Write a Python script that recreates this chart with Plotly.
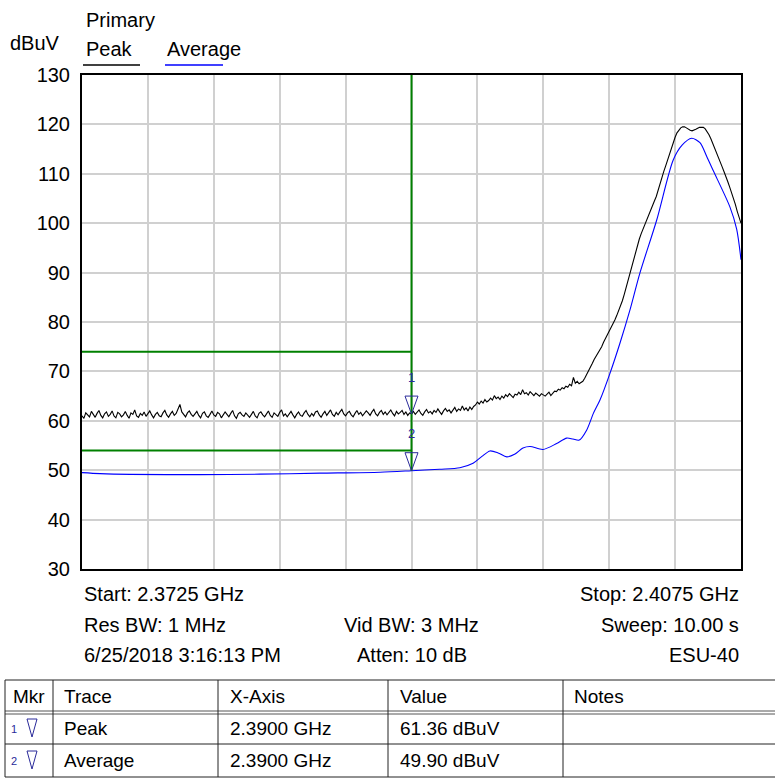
import numpy as np
import plotly.graph_objects as go

# ---------------- data ----------------
start_ghz = 2.3725
stop_ghz = 2.4075
y_min, y_max = 30, 130

# Peak trace (sweep points, 0.1 MHz spacing)
peak_dbuv = [
    61.0, 60.5, 61.6, 61.2, 60.8, 61.9, 61.3, 60.7, 61.5, 62.1,
    61.1, 60.6, 61.4, 61.8, 60.9, 61.3, 62.0, 61.0, 60.6, 61.7,
    61.4, 60.8, 61.2, 61.9, 61.1, 60.5, 61.6, 61.3, 62.2, 61.0,
    60.7, 61.5, 61.1, 61.8, 60.9, 61.4, 62.0, 61.2, 60.6, 61.3,
    61.7, 61.0, 60.8, 61.6, 62.1, 61.2, 60.7, 61.4, 61.9, 61.1,
    61.5, 62.4, 63.3, 61.8, 61.2, 60.8, 61.6, 62.0, 61.3, 60.9,
    61.4, 61.9, 61.1, 60.6, 61.5, 61.8, 61.0, 60.7, 61.3, 62.0,
    61.2, 60.9, 61.7, 61.4, 60.6, 61.1, 61.8, 61.3, 60.8, 61.5,
    62.1, 61.0, 60.5, 61.4, 61.7, 61.2, 60.9, 61.6, 61.1, 60.7,
    61.3, 61.9, 61.0, 60.6, 61.5, 61.8, 61.2, 60.8, 61.4, 62.0,
    61.1, 60.7, 61.6, 61.3, 60.9, 61.7, 62.2, 61.0, 61.4, 60.8,
    61.5, 61.9, 61.2, 60.6, 61.3, 61.8, 61.1, 60.9, 61.6, 62.1,
    61.3, 60.8, 61.5, 61.0, 61.8, 62.0, 61.2, 60.7, 61.4, 61.9,
    61.1, 61.6, 62.2, 61.3, 60.9, 61.7, 61.2, 61.8, 62.3, 61.4,
    61.0, 61.6, 61.9, 61.2, 60.8, 61.5, 62.1, 61.3, 61.7, 61.0,
    61.4, 62.0, 61.6, 61.1, 61.8, 62.3, 61.4, 61.0, 61.7, 62.1,
    61.3, 61.8, 61.2, 61.6, 62.2, 61.5, 61.0, 61.9, 61.4, 61.7,
    62.1, 61.3, 61.8, 61.1, 61.6, 61.36,
    61.9, 61.3, 61.7, 62.2, 61.5, 61.1, 61.8, 62.3, 61.6, 61.9,
    61.4, 62.1, 61.7, 62.4, 61.8, 61.3, 62.0, 62.5, 61.9, 62.2,
    61.6, 62.3, 62.7, 61.9, 62.4, 62.1, 63.0, 62.2, 62.6, 62.0,
    62.8, 62.3, 62.9, 63.2, 63.8, 63.4, 64.0, 63.6, 64.3, 63.8,
    64.1, 64.6, 64.2, 65.1, 64.5, 64.8, 64.3, 65.0, 64.6, 65.3,
    64.9, 65.5, 65.0, 64.7, 65.4, 65.2, 65.8, 65.3, 66.3, 65.5,
    65.7, 65.2, 65.9, 65.4, 65.1, 65.6, 65.3, 65.0, 65.5, 65.2,
    65.0, 65.4, 65.8, 65.1, 65.6, 66.0, 65.9, 66.4, 66.2, 66.7,
    66.5, 67.0, 66.8, 67.4, 67.1, 68.8, 67.6, 68.0, 67.5, 67.8,
    68.0, 68.6, 69.3, 69.9, 70.8, 71.6, 72.4, 73.0, 73.6, 74.3,
    75.0, 75.9, 76.6, 77.4, 78.2, 79.0, 79.6, 80.4, 81.3, 82.2,
    83.2, 84.3, 85.6, 87.0, 88.5, 89.9, 91.4, 92.9, 94.3, 95.6,
    96.8, 97.9, 98.9, 99.8, 100.7, 101.6, 102.6, 103.5, 104.5, 105.4,
    106.8, 108.2, 109.5, 110.5, 111.6, 112.8, 113.9, 115.0, 116.2, 117.4,
    118.3, 118.9, 119.3, 119.5, 119.5, 119.3, 119.0, 118.8, 118.7, 118.8,
    119.0, 119.2, 119.4, 119.4, 119.4, 119.1, 118.6, 117.9, 117.1, 116.2,
    115.3, 114.3, 113.3, 112.3, 111.4, 110.4, 109.5, 108.4, 107.3, 106.2,
    105.1, 103.8, 102.4, 101.1, 100.0,
]

# Average trace (read at selected frequencies)
avg_freq_ghz = [
    2.3725, 2.37346, 2.37505, 2.37877, 2.38195, 2.38514, 2.38833, 2.3900,
    2.39149, 2.39257, 2.39327, 2.39374, 2.39417, 2.3946, 2.39506, 2.3955,
    2.39592, 2.3963, 2.39698, 2.39771, 2.39824, 2.39858, 2.39891, 2.3993,
    2.39966, 2.40001, 2.40054, 2.40107, 2.4016, 2.40213, 2.40302, 2.4039,
    2.40437, 2.40488, 2.40532, 2.40568, 2.40603, 2.40691, 2.40727, 2.4075,
]
avg_dbuv = [
    49.5, 49.3, 49.15, 49.1, 49.2, 49.4, 49.6, 49.9,
    50.2, 50.5, 51.4, 52.8, 53.9, 53.5, 52.7, 53.3,
    54.5, 54.8, 54.2, 55.4, 56.5, 56.3, 56.1, 58.1,
    61.5, 64.2, 69.6, 75.7, 82.4, 89.9, 100.6, 112.8,
    115.8, 117.2, 116.3, 113.5, 110.6, 103.3, 98.8, 92.6,
]

# limit / marker values
band_edge_ghz = 2.39
peak_limit = 74
avg_limit = 54
marker_ids = [1, 2]
marker_traces = ["Peak", "Average"]
marker_x_ghz = [2.3900, 2.3900]
marker_values = [61.36, 49.90]

info_left = ["Start: 2.3725 GHz", "Res BW: 1 MHz", "6/25/2018 3:16:13 PM"]
info_mid = ["", "Vid BW: 3 MHz", "Atten: 10 dB"]
info_right = ["Stop: 2.4075 GHz", "Sweep: 10.00 s", "ESU-40"]
table_headers = ["Mkr", "Trace", "X-Axis", "Value", "Notes"]

# ---------------- layout helpers ----------------
W, H = 775, 779
L, R, T, B = 82, 34, 75, 210
PW, PH = W - L - R, H - T - B


def px(x):
    return (x - L) / PW


def py(y):
    return (H - B - y) / PH


FONT = "Arial, Liberation Sans, sans-serif"
FS = 20
TFS = 19
MK_COLOR = "#2a2a9a"

fig = go.Figure()
n = len(peak_dbuv)
peak_freq = np.linspace(start_ghz, stop_ghz, n)
fig.add_trace(go.Scatter(x=peak_freq, y=peak_dbuv, mode="lines",
                         line=dict(color="black", width=1.1), hoverinfo="skip"))
fig.add_trace(go.Scatter(x=avg_freq_ghz, y=avg_dbuv, mode="lines",
                         line=dict(color="#0000ff", width=1.1, shape="spline", smoothing=0.8),
                         hoverinfo="skip"))

shapes = []
ann = []
green = "#008000"
# limit lines
shapes.append(dict(type="line", xref="x", yref="y", x0=start_ghz, x1=band_edge_ghz,
                   y0=peak_limit, y1=peak_limit, line=dict(color=green, width=2)))
shapes.append(dict(type="line", xref="x", yref="y", x0=start_ghz, x1=band_edge_ghz,
                   y0=avg_limit, y1=avg_limit, line=dict(color=green, width=2)))
shapes.append(dict(type="line", xref="x", yref="y", x0=band_edge_ghz, x1=band_edge_ghz,
                   y0=min(marker_values), y1=y_max, line=dict(color=green, width=2)))

# marker triangles on the plot
for mid, mx, mv in zip(marker_ids, marker_x_ghz, marker_values):
    shapes.append(dict(type="path", xref="x", yref="y", xsizemode="pixel", ysizemode="pixel",
                       xanchor=mx, yanchor=mv, path="M-6.5,18 L6.5,18 L0,0 Z",
                       line=dict(color=MK_COLOR, width=1)))
    ann.append(dict(x=mx, y=mv, xref="x", yref="y", text=str(mid), showarrow=False,
                    yshift=37, font=dict(family=FONT, size=13, color=MK_COLOR)))

# header labels
for txt, x0, y0 in [("Primary", 84, 20), ("dBuV", 8, 43), ("Peak", 84, 49), ("Average", 165, 49)]:
    ann.append(dict(x=px(x0), y=py(y0), xref="paper", yref="paper", text=txt,
                    showarrow=False, xanchor="left", yanchor="middle",
                    font=dict(family=FONT, size=FS, color="black")))
shapes.append(dict(type="line", xref="paper", yref="paper", x0=px(83), x1=px(140),
                   y0=py(65), y1=py(65), line=dict(color="black", width=1.5)))
shapes.append(dict(type="line", xref="paper", yref="paper", x0=px(165), x1=px(223),
                   y0=py(65), y1=py(65), line=dict(color="#0000ff", width=1.5)))

# info rows
for i, yy in enumerate([594, 625, 655]):
    ann.append(dict(x=0, y=py(yy), xref="paper", yref="paper", text=info_left[i],
                    showarrow=False, xanchor="left", yanchor="middle",
                    font=dict(family=FONT, size=FS, color="black")))
    if info_mid[i]:
        ann.append(dict(x=0.5, y=py(yy), xref="paper", yref="paper", text=info_mid[i],
                        showarrow=False, xanchor="center", yanchor="middle",
                        font=dict(family=FONT, size=FS, color="black")))
    ann.append(dict(x=1, y=py(yy), xref="paper", yref="paper", text=info_right[i],
                    showarrow=False, xanchor="right", yanchor="middle",
                    font=dict(family=FONT, size=FS, color="black")))

# marker table
col_edges = [5, 53, 218, 388, 563, 775]
row_lines = [680, 744, 777]
tline = dict(color="#222222", width=1)
for yy in row_lines:
    shapes.append(dict(type="line", xref="paper", yref="paper", x0=px(5), x1=px(775),
                       y0=py(yy), y1=py(yy), line=tline))
for yy in [711, 714]:
    shapes.append(dict(type="line", xref="paper", yref="paper", x0=px(5), x1=px(775),
                       y0=py(yy), y1=py(yy), line=dict(color="#555555", width=1)))
for xx in col_edges[:-1]:
    shapes.append(dict(type="line", xref="paper", yref="paper", x0=px(xx), x1=px(xx),
                       y0=py(680), y1=py(777), line=tline))

pads = [6, 9, 10, 10, 9]
for j, htxt in enumerate(table_headers):
    ann.append(dict(x=px(col_edges[j] + pads[j]), y=py(696), xref="paper", yref="paper",
                    text=htxt, showarrow=False, xanchor="left", yanchor="middle",
                    font=dict(family=FONT, size=TFS, color="black")))

for r, yy in enumerate([728, 760]):
    cells = ["", marker_traces[r], f"{marker_x_ghz[r]:.4f} GHz", f"{marker_values[r]:.2f} dBuV", ""]
    for j, ctxt in enumerate(cells):
        if ctxt:
            ann.append(dict(x=px(col_edges[j] + pads[j]), y=py(yy), xref="paper", yref="paper",
                            text=ctxt, showarrow=False, xanchor="left", yanchor="middle",
                            font=dict(family=FONT, size=TFS, color="black")))
    ann.append(dict(x=px(14), y=py(yy + 1), xref="paper", yref="paper", text=str(marker_ids[r]),
                    showarrow=False, xanchor="center", yanchor="middle",
                    font=dict(family=FONT, size=11, color=MK_COLOR)))
    x0, x1, xm = px(27), px(37), px(32)
    ytop, ybot = py(yy - 9), py(yy + 9)
    shapes.append(dict(type="path", xref="paper", yref="paper",
                       path=f"M{x0},{ytop} L{x1},{ytop} L{xm},{ybot} Z",
                       line=dict(color=MK_COLOR, width=1)))

fig.update_layout(
    width=W, height=H,
    margin=dict(l=L, r=R, t=T, b=B),
    paper_bgcolor="white", plot_bgcolor="white",
    showlegend=False,
    shapes=shapes, annotations=ann,
    font=dict(family=FONT, size=FS, color="black"),
)
fig.update_xaxes(range=[start_ghz, stop_ghz], tick0=start_ghz, dtick=(stop_ghz - start_ghz) / 10,
                 showticklabels=False, ticks="", showgrid=True, gridcolor="#d0d0d0", gridwidth=2,
                 showline=True, mirror=True, linecolor="black", linewidth=2, zeroline=False)
fig.update_yaxes(range=[y_min, y_max], dtick=10, tick0=0, showgrid=True, gridcolor="#d0d0d0",
                 gridwidth=2, ticks="", ticklabelstandoff=6,
                 tickfont=dict(family=FONT, size=FS, color="black"),
                 showline=True, mirror=True, linecolor="black", linewidth=2, zeroline=False)

fig.write_html("out.html", config={"displayModeBar": False},
               post_script="document.body.style.margin='0';document.body.style.overflow='hidden';")
